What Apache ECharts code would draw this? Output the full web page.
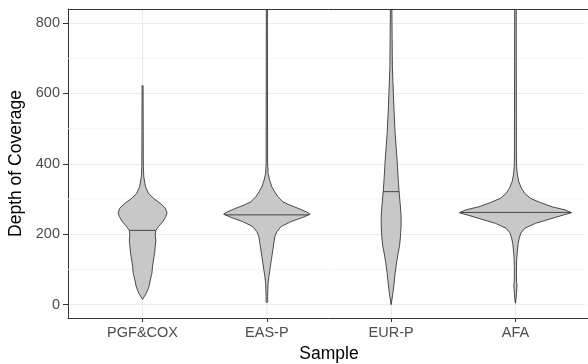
<!DOCTYPE html>
<html>
<head>
<meta charset="utf-8">
<script src="https://cdn.jsdelivr.net/npm/echarts@6/dist/echarts.min.js"></script>
<style>
  html, body { margin: 0; padding: 0; background: #fff; overflow: hidden; }
  #chart { width: 588px; height: 364px; }
</style>
</head>
<body>
<div id="chart"></div>
<script>
// 样本分类与中位数
var categories = ['PGF&COX', 'EAS-P', 'EUR-P', 'AFA'];
var medians = [211, 255, 321, 262];
var yTicks = [0, 200, 400, 600, 800];
var yMinor = [100, 300, 500, 700];

// 小提琴轮廓：深度 与 半宽（类目单位）
var pgfDepth = [15, 32, 51, 70, 89, 108, 127, 146, 165, 184, 198, 211, 222, 236, 250, 261, 274, 288, 302, 316, 335, 363, 392, 622];
var pgfWidth = [0, .030, .051, .062, .075, .080, .088, .097, .102, .107, .102, .107, .129, .163, .187, .197, .183, .142, .088, .048, .024, .010, .006, .004];

var easDepth = [5, 8.5, 14, 23, 42, 61, 80, 98, 117, 136, 155, 174, 193, 207, 222, 236, 248, 257, 264, 274, 283, 292, 307, 321, 335, 354, 373, 402, 900];
var easWidth = [0, .008, .006, .006, .008, .010, .016, .024, .032, .040, .048, .056, .064, .080, .115, .195, .290, .348, .316, .249, .183, .129, .088, .062, .040, .022, .010, .006, .004];

var eurDepth = [0, 32, 61, 89, 118, 146, 165, 193, 222, 250, 278, 297, 321, 345, 373, 411, 449, 487, 525, 562, 600, 638, 676, 760, 840, 900];
var eurWidth = [0, .014, .024, .032, .043, .056, .067, .075, .080, .080, .075, .070, .064, .059, .054, .048, .040, .032, .027, .022, .018, .014, .010, .008, .006, .006];

var afaDepth = [4, 20, 32, 50, 56, 62, 89, 127, 155, 174, 188, 203, 217, 231, 245, 255, 261, 269, 278, 290, 302, 316, 331, 349, 368, 392, 411, 900];
var afaWidth = [0, .006, .008, .012, .013, .010, .008, .010, .016, .022, .030, .043, .075, .161, .295, .389, .451, .402, .295, .201, .121, .075, .048, .027, .016, .010, .008, .006];

var violins = [
  {depth: pgfDepth, width: pgfWidth},
  {depth: easDepth, width: easWidth},
  {depth: eurDepth, width: eurWidth},
  {depth: afaDepth, width: afaWidth}
];

var myChart = echarts.init(document.getElementById('chart'));

// 在某深度处插值半宽
function widthAt(v, y) {
  for (var i = 1; i < v.depth.length; i++) {
    if (y <= v.depth[i]) {
      var t = (y - v.depth[i - 1]) / (v.depth[i] - v.depth[i - 1]);
      return v.width[i - 1] + t * (v.width[i] - v.width[i - 1]);
    }
  }
  return 0;
}

//画小提琴
function renderViolin(params, api) {
  var idx = params.dataIndex;
  var cx = api.value(0);
  var v = violins[idx];
  var pts = [];
  for (var i = 0; i < v.depth.length; i++) {
    pts.push(api.coord([cx + v.width[i], v.depth[i]]));
  }
  for (var j = v.depth.length - 1; j >= 0; j--) {
    pts.push(api.coord([cx - v.width[j], v.depth[j]]));
  }
  var m = api.value(1);
  var hw = widthAt(v, m);
  var a = api.coord([cx - hw, m]);
  var b = api.coord([cx + hw, m]);
  return {
    type: 'group',
    children: [{
      type: 'polygon',
      shape: {points: pts},
      style: {fill: '#C8C8C8', stroke: '#222', lineWidth: 0.8}
    }, {
      type: 'line',
      shape: {x1: a[0], y1: a[1], x2: b[0], y2: b[1]},
      style: {stroke: '#222', lineWidth: 0.8}
    }]
  };
}

//次网格线（横向）
function renderMinor(params, api) {
  var cs = params.coordSys;
  var p = api.coord([1, api.value(0)]);
  return {
    type: 'line',
    shape: {x1: cs.x, y1: p[1], x2: cs.x + cs.width, y2: p[1]},
    style: {stroke: '#F2F2F2', lineWidth: 0.8}
  };
}

//类目网格线（纵向）
function renderCatLine(params, api) {
  var cs = params.coordSys;
  var p = api.coord([api.value(0), 0]);
  return {
    type: 'line',
    shape: {x1: p[0], y1: cs.y, x2: p[0], y2: cs.y + cs.height},
    style: {stroke: '#EBEBEB', lineWidth: 1.2}
  };
}

//顶部边框
function renderTop(params, api) {
  var cs = params.coordSys;
  return {
    type: 'line',
    shape: {x1: cs.x, y1: cs.y + 0.5, x2: cs.x + cs.width + 10, y2: cs.y + 0.5},
    style: {stroke: '#333', lineWidth: 1}
  };
}

var seriesData = [];
var catData = [];
for (var k = 0; k < categories.length; k++) {
  seriesData.push([k + 1, medians[k]]);
  catData.push([k + 1]);
}
var minorData = yMinor.map(function (y) { return [y]; });

var font = 'Liberation Sans';
var border = {show: true, onZero: false, lineStyle: {color: '#333', width: 1}};
var option = {
  animation: false,
  grid: {
    left: 68, top: 9, width: 522, bottom: 46,
    outerBoundsMode: 'none',
    containLabel: false,
    show: false
  },
  // 右侧面板在图外，遮住右缘多出的竖线
  graphic: [{
    type: 'rect',
    right: 0, top: 10,
    shape: {width: 2.5, height: 307.5},
    style: {fill: '#fff'},
    z: 100
  }],
  xAxis: {
    type: 'value',
    min: 0.4, max: 4.6,
    name: 'Sample',
    nameLocation: 'middle',
    nameGap: 21,
    nameTextStyle: {color: '#000', fontSize: 17.5, fontFamily: font},
    axisLine: border,
    axisTick: {show: true, length: 4, customValues: [1, 2, 3, 4], lineStyle: {color: '#333'}},
    axisLabel: {
      customValues: [1, 2, 3, 4],
      margin: 7,
      color: '#4D4D4D', fontSize: 14.5, fontFamily: font,
      formatter: function (val) { return categories[Math.round(val) - 1]; }
    },
    splitLine: {show: false}
  },
  yAxis: {
    type: 'value',
    min: -38, max: 840,
    name: 'Depth of Coverage',
    nameLocation: 'middle',
    nameRotate: 90,
    nameGap: 42,
    nameTextStyle: {color: '#000', fontSize: 17.5, fontFamily: font},
    axisLine: border,
    axisTick: {show: true, length: 5, customValues: yTicks, lineStyle: {color: '#333'}},
    axisLabel: {customValues: yTicks, margin: 8, color: '#4D4D4D', fontSize: 14.5, fontFamily: font},
    splitLine: {show: true, lineStyle: {color: '#EBEBEB', width: 1.2}}
  },
  series: [{
    type: 'custom',
    renderItem: renderMinor,
    encode: {y: 0},
    data: minorData,
    silent: true,
    z: 1
  }, {
    type: 'custom',
    renderItem: renderCatLine,
    encode: {x: 0},
    data: catData,
    silent: true,
    z: 1
  }, {
    type: 'custom',
    clip: true,
    renderItem: renderViolin,
    encode: {x: 0, y: 1},
    data: seriesData,
    z: 5
  }, {
    type: 'custom',
    renderItem: renderTop,
    data: [[1]],
    encode: {x: 0},
    silent: true,
    z: 6
  }]
};
myChart.setOption(option);
</script>
</body>
</html>
